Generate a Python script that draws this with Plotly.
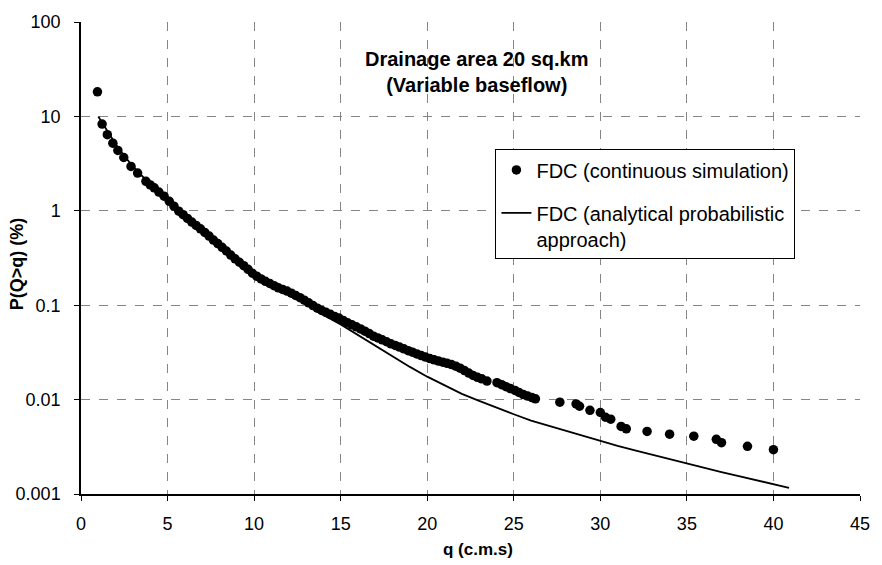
import plotly.graph_objects as go

# ---- data ----
sim_q = [0.95, 1.22, 1.52, 1.84, 2.13, 2.47, 2.89, 3.27, 3.75, 4.0, 4.23, 4.5, 4.8, 5.1, 5.37,
         5.65, 5.9, 6.15, 6.4, 6.65, 6.9, 7.15, 7.4, 7.65, 7.9, 8.15, 8.4, 8.65, 8.9, 9.15,
         9.4, 9.65, 9.9, 10.15, 10.4, 10.65, 10.9, 11.15, 11.4, 11.65, 11.9, 12.15, 12.4, 12.65,
         12.9, 13.15, 13.4, 13.65, 13.9, 14.15, 14.4, 14.65, 14.9, 15.15, 15.4, 15.65, 15.9,
         16.15, 16.4, 16.65, 16.9, 17.15, 17.4, 17.65, 17.9, 18.15, 18.4, 18.65, 18.9, 19.15,
         19.4, 19.65, 19.9, 20.15, 20.4, 20.65, 20.9, 21.15, 21.4, 21.65, 21.9, 22.15, 22.4,
         22.65, 22.9, 23.15, 23.45, 24.03, 24.3, 24.55, 24.8, 25.07, 25.3, 25.55, 25.8, 26.05,
         26.25, 27.66, 28.6, 28.8, 29.4, 30.0, 30.3, 30.6, 31.2, 31.5, 32.7, 34.0, 35.4, 36.7,
         37.0, 38.5, 40.0]
sim_p = [18.2, 8.3, 6.4, 5.2, 4.36, 3.67, 2.95, 2.51, 2.05, 1.88, 1.75, 1.58, 1.43, 1.26, 1.12,
         0.99, 0.91, 0.83, 0.76, 0.70, 0.645, 0.59, 0.54, 0.49, 0.45, 0.41, 0.375, 0.34, 0.31,
         0.285, 0.262, 0.24, 0.218, 0.203, 0.19, 0.179, 0.170, 0.161, 0.153, 0.147, 0.141,
         0.134, 0.127, 0.12, 0.113, 0.106, 0.099, 0.093, 0.088, 0.084, 0.080, 0.076, 0.073,
         0.069, 0.065, 0.062, 0.059, 0.056, 0.053, 0.050, 0.047, 0.045, 0.043, 0.041, 0.039,
         0.0375, 0.036, 0.0345, 0.033, 0.0318, 0.0305, 0.0293, 0.0282, 0.0272, 0.0264, 0.0256,
         0.0249, 0.0242, 0.0235, 0.0226, 0.0215, 0.0203, 0.0191, 0.0180, 0.0172, 0.0166, 0.0157,
         0.0151, 0.0144, 0.0137, 0.0131, 0.0125, 0.0119, 0.0113, 0.0109, 0.0105, 0.0102,
         0.0094, 0.0090, 0.0085, 0.0077, 0.0073, 0.0065, 0.0062, 0.0052, 0.0049, 0.0046,
         0.0043, 0.0041, 0.0038, 0.0035, 0.0032, 0.00295]

ana_q = [1.0, 1.5, 2.0, 2.5, 3.0, 4.0, 5.0, 6.0, 7.0, 8.0, 9.0, 10.0, 11.0, 12.0, 13.0, 14.0,
         15.0, 16.0, 17.0, 18.0, 19.0, 20.0, 21.0, 22.0, 23.0, 24.0, 25.0, 26.0, 27.0, 28.0,
         29.0, 30.0, 31.0, 32.0, 33.0, 34.0, 35.0, 36.0, 37.0, 38.0, 39.0, 40.0, 40.9]
ana_p = [10.0, 7.2, 5.1, 3.8, 2.95, 1.90, 1.28, 0.90, 0.63, 0.44, 0.305, 0.215, 0.165, 0.135,
         0.105, 0.079, 0.0626, 0.0481, 0.0369, 0.0283, 0.0222, 0.0175, 0.0142, 0.0115, 0.0097,
         0.0082, 0.0070, 0.0060, 0.0053, 0.00464, 0.00411, 0.00365, 0.00324, 0.0029, 0.0026,
         0.00234, 0.0021, 0.0019, 0.00171, 0.00155, 0.0014, 0.00126, 0.00116]

x_ticks = [0, 5, 10, 15, 20, 25, 30, 35, 40, 45]
x_grid = [5, 10, 15, 20, 25, 30, 35, 40]
y_ticks = [0.001, 0.01, 0.1, 1, 10, 100]
y_ticktext = ["0.001", "0.01", "0.1", "1", "10", "100"]
y_grid = [0.01, 0.1, 1, 10]

title_text = "<b>Drainage area 20 sq.km<br>(Variable baseflow)</b>"
x_title = "<b>q (c.m.s)</b>"
y_title = "<b>P(Q>q) (%)</b>"
name_sim = "FDC (continuous simulation)"
name_ana = "FDC (analytical probabilistic<br>approach)"

FONT = "Liberation Sans, Arial, sans-serif"
GRID = "#858585"

fig = go.Figure()
# invisible trace carrying the grid-only axes
fig.add_trace(go.Scatter(x=[x_grid[0]], y=[y_grid[0]], xaxis="x2", yaxis="y2",
                         mode="markers", marker=dict(opacity=0), showlegend=False,
                         hoverinfo="skip"))
fig.add_trace(go.Scatter(x=sim_q, y=sim_p, mode="markers", name=name_sim,
                         marker=dict(color="black", size=9.5), legendgroup="a"))
fig.add_trace(go.Scatter(x=ana_q, y=ana_p, mode="lines", name=name_ana,
                         line=dict(color="black", width=1.8), legendgroup="b"))

fig.update_layout(
    width=882, height=565,
    margin=dict(l=81, r=13, t=20, b=71),
    paper_bgcolor="white", plot_bgcolor="white",
    font=dict(family=FONT, color="black", size=18),
    xaxis=dict(range=[0, 45], tickmode="array", tickvals=x_ticks,
               showgrid=False, zeroline=False, showline=True, linecolor="black",
               linewidth=1.5, ticks="outside", ticklen=5, tickcolor="black",
               tickfont=dict(size=18), ticklabelstandoff=8),
    yaxis=dict(type="log", range=[-3, 2], tickmode="array", tickvals=y_ticks,
               ticktext=y_ticktext, showgrid=False, zeroline=False, showline=True,
               linecolor="black", linewidth=1.5, ticks="outside", ticklen=5,
               tickcolor="black", tickfont=dict(size=18), ticklabelstandoff=10),
    xaxis2=dict(overlaying="x", range=[0, 45], tickmode="array", tickvals=x_grid,
                showgrid=True, gridcolor=GRID, griddash="dash", gridwidth=1,
                showticklabels=False, ticks="", showline=False, zeroline=False),
    yaxis2=dict(overlaying="y", type="log", range=[-3, 2], tickmode="array",
                tickvals=y_grid, showgrid=True, gridcolor=GRID, griddash="dash",
                gridwidth=1, showticklabels=False, ticks="", showline=False,
                zeroline=False),
    legend=dict(x=0.532, y=0.73, xanchor="left", yanchor="top",
                bgcolor="white", bordercolor="black", borderwidth=1,
                font=dict(size=20), traceorder="grouped", tracegroupgap=14,
                valign="top"),
    annotations=[
        dict(text=title_text, xref="paper", yref="paper", x=0.508, y=0.895,
             xanchor="center", yanchor="middle", showarrow=False,
             font=dict(size=20)),
        dict(text=y_title, xref="paper", yref="paper", x=-0.082, y=0.487,
             xanchor="center", yanchor="middle", textangle=-90, showarrow=False,
             font=dict(size=18)),
        dict(text=x_title, xref="paper", yref="paper", x=0.51, y=-0.118,
             xanchor="center", yanchor="middle", showarrow=False,
             font=dict(size=17)),
    ],
)

fig.write_html("out.html")
